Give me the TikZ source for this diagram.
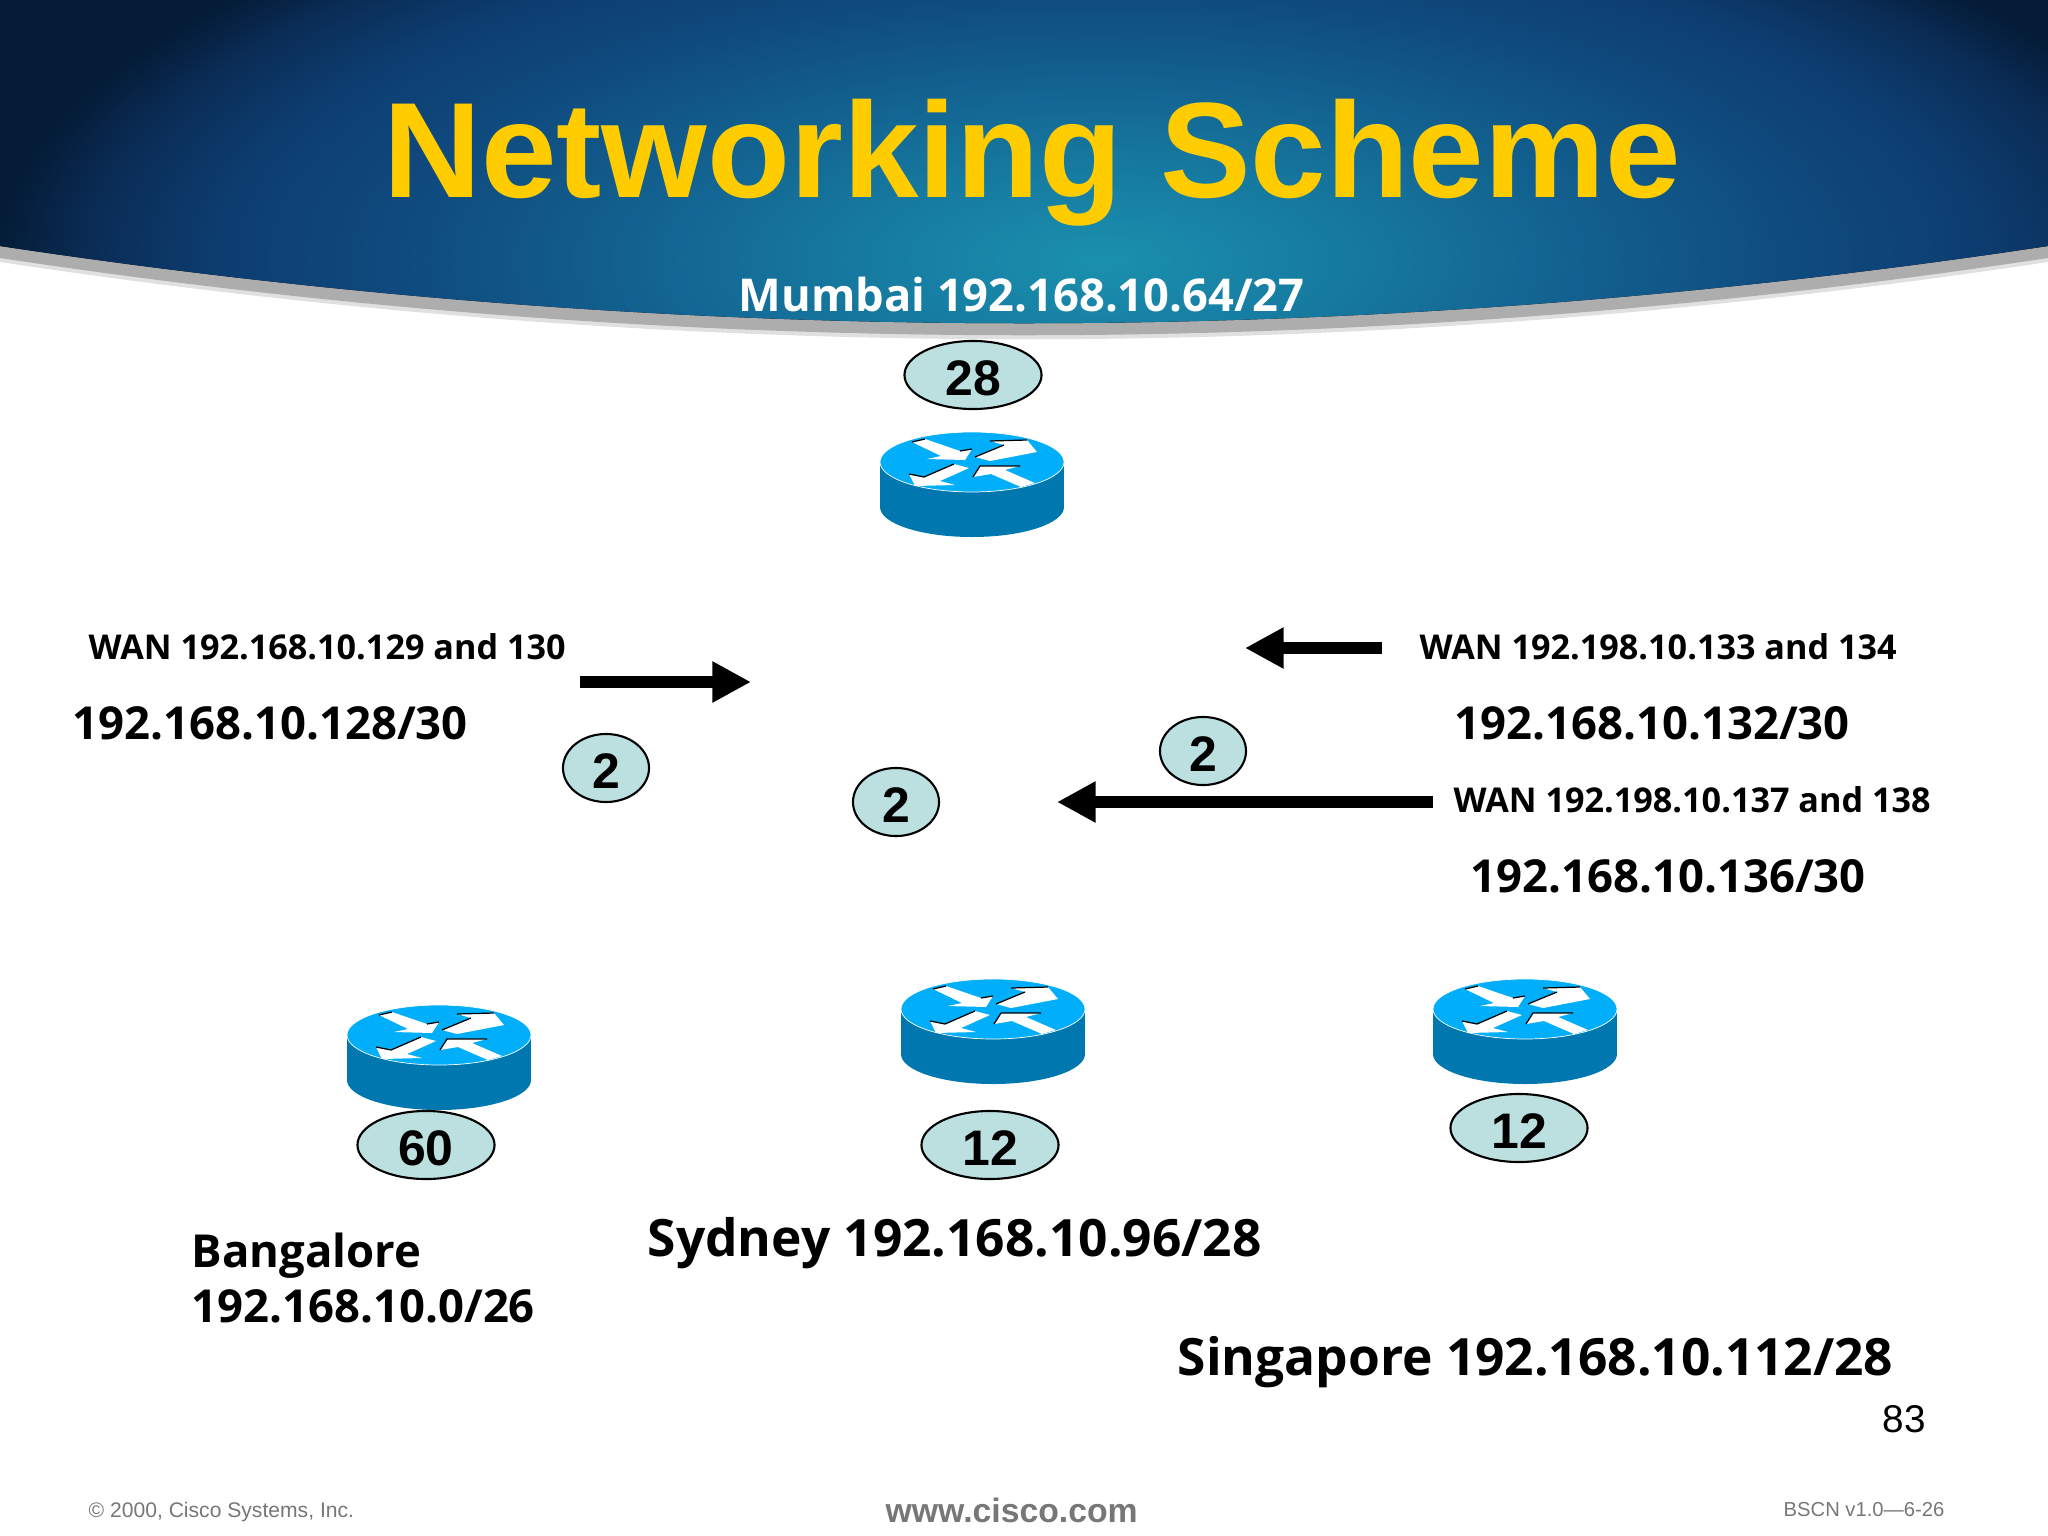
\documentclass[tikz,border=0pt]{standalone}
\usepackage{fontspec}
\setmainfont{Open Sans}
\newfontfamily\arialfont{Liberation Sans}
\usetikzlibrary{arrows.meta,shapes.geometric}
\definecolor{ovalfill}{HTML}{BCDFE0}
\definecolor{routertop}{HTML}{00AEFA}
\definecolor{routerside}{HTML}{0077AE}
\definecolor{titleyellow}{HTML}{FFCC00}
\definecolor{footergray}{HTML}{777777}
\definecolor{shadea}{HTML}{1A90AE}
\definecolor{shadeb}{HTML}{16789F}
\definecolor{shadec}{HTML}{12608F}
\definecolor{shaded}{HTML}{0F4A7E}
\definecolor{shadee}{HTML}{0D3D70}
\definecolor{shadef}{HTML}{0A2C55}
\definecolor{shadeg}{HTML}{041C38}
\pgfdeclareradialshading{headershade}{\pgfpoint{0bp}{0bp}}{color(0bp)=(shadea); color(6bp)=(shadeb); color(11bp)=(shadec); color(16bp)=(shaded); color(20bp)=(shadee); color(23bp)=(shadef); color(25bp)=(shadeg); color(100bp)=(shadeg)}
\tikzstyle{oval}=[ellipse,draw=black,fill=ovalfill,line width=0.6pt,inner sep=0pt,minimum width=1.37cm,minimum height=0.68cm,text height=11.5pt,text depth=0pt,font=\arialfont\bfseries\fontsize{14.2}{16}\selectfont]
\tikzstyle{ovalsmall}=[oval,minimum width=0.86cm]
\tikzstyle{subnet}=[anchor=west,inner sep=0pt,font=\bfseries\fontsize{12.93}{15}\selectfont]
\tikzstyle{wan}=[anchor=west,inner sep=0pt,font=\bfseries\fontsize{9.72}{12}\selectfont]
\tikzstyle{site}=[anchor=west,inner sep=0pt,font=\bfseries\fontsize{14.63}{17}\selectfont]
\tikzstyle{foot}=[anchor=west,inner sep=0pt,text=footergray,font=\arialfont\fontsize{6}{7}\selectfont]
\tikzstyle{fatarrow}=[-{Triangle[length=11pt,width=11pt]},line width=3.4pt,black]
\tikzstyle{routerarrow}=[fill=white,draw=none]
\tikzstyle{routeredge}=[black,line width=0.35pt]
\tikzset{router/.pic={
	\fill [routerside] (-92,0) rectangle (92,45);
	\fill [routerside] (0,45) ellipse (92 and 30);
	\fill [routertop] (0,0) ellipse (92 and 30);
	\draw [white,line width=0.2pt] (0,0) ellipse (92 and 30);
	\fill [routerarrow] (-60,-20) -- (-47,-23) -- (-12,-11) -- (0,-13) -- (-7,-2) -- (-45,-3) -- (-31,-6) -- cycle;
	\fill [routerarrow] (3,-5) -- (18,-1) -- (65,-10) -- (55,-22) -- (18,-21) -- (32,-17) -- cycle;
	\fill [routerarrow] (-63,12) -- (-57,24) -- (-17,23) -- (-32,19) -- (-3,6) -- (-18,2) -- (-48,15) -- cycle;
	\fill [routerarrow] (1,15) -- (8,4) -- (48,4) -- (33,8) -- (63,21) -- (49,25) -- (19,12) -- cycle;
	\draw [routeredge] (-60,-20) -- (-47,-23);
	\draw [routeredge] (-12,-11) -- (0,-13);
	\draw [routeredge] (3,-5) -- (32,-17);
	\draw [routeredge] (18,-21) -- (55,-22);
	\draw [routeredge] (-63,12) -- (-48,15) -- (-18,2);
	\draw [routeredge] (1,15) -- (8,4) -- (48,4);
}}

\begin{document}
\begin{tikzpicture}[x=0.01cm,y=-0.01cm]
			\useasboundingbox (0,0) rectangle (2048,1536);
			\fill [white] (0,0) rectangle (2048,1536);
			\fill [black!12] (0,262) .. controls (683,365) and (1365,365) .. (2048,262) -- (2048,240) -- (0,240) -- cycle;
			\fill [black!32] (0,258) .. controls (683,361) and (1365,361) .. (2048,258) -- (2048,240) -- (0,240) -- cycle;
			\begin{scope}
				\clip (0,0) -- (2048,0) -- (2048,246) .. controls (1365,349) and (683,349) .. (0,246) -- cycle;
				\fill [shading=headershade] (0,-160) rectangle (2200,680);
			\end{scope}
			
			\node (title) at (1032,163) [text=titleyellow,inner sep=0pt,font=\arialfont\bfseries\fontsize{38.6}{40}\selectfont] {Networking Scheme};
			\node (mumbai) at (738,295) [subnet,text=white,font=\bfseries\fontsize{12.87}{15}\selectfont] {Mumbai 192.168.10.64/27};
			
			\pic (r1) at (972,462) {router};
			\pic (r2) at (439,1035) {router};
			\pic (r3) at (993,1009) {router};
			\pic (r4) at (1525,1009) {router};
			
			\node (n28) at (973,375) [oval] {28};
			\node (n60) at (426,1145) [oval] {60};
			\node (n12a) at (990,1145) [oval] {12};
			\node (n12b) at (1519,1128) [oval] {12};
			\node (n2a) at (606,768) [ovalsmall] {2};
			\node (n2b) at (896,802) [ovalsmall] {2};
			\node (n2c) at (1203,751) [ovalsmall] {2};
			
			\coordinate (a1s) at (580,682);
			\coordinate (a1e) at (751,682);
			\coordinate (a2s) at (1382,648);
			\coordinate (a2e) at (1245,648);
			\coordinate (a3s) at (1433,802);
			\coordinate (a3e) at (1057,802);
			\draw [fatarrow] (a1s) -- (a1e);
			\draw [fatarrow] (a2s) -- (a2e);
			\draw [fatarrow] (a3s) -- (a3e);
			
			\node (wan1) at (88,647) [wan] {WAN 192.168.10.129 and 130};
			\node (net1) at (72,723) [subnet] {192.168.10.128/30};
			\node (wan2) at (1419,647) [wan] {WAN 192.198.10.133 and 134};
			\node (net2) at (1454,723) [subnet] {192.168.10.132/30};
			\node (wan3) at (1453,800) [wan] {WAN 192.198.10.137 and 138};
			\node (net3) at (1470,876) [subnet] {192.168.10.136/30};
			
			\node (bangalore) at (191,1256) [subnet] {Bangalore};
			\node (bangaloreip) at (191,1306) [subnet] {192.168.10.0/26};
			\node (sydney) at (647,1243) [site] {Sydney 192.168.10.96/28};
			\node (singapore) at (1177,1362) [site] {Singapore 192.168.10.112/28};
			
			\node (page) at (1882,1419) [anchor=west,inner sep=0pt,font=\arialfont\fontsize{11}{13}\selectfont] {83};
			\node (copyr) at (88,1512) [foot] {© 2000, Cisco Systems, Inc.};
			\node (www) at (885,1510) [foot,font=\arialfont\bfseries\fontsize{9.6}{10}\selectfont] {www.cisco.com};
			\node (bscn) at (1783,1510) [foot,font=\arialfont\fontsize{5.75}{7}\selectfont] {BSCN v1.0—6-26};
		\end{tikzpicture}
\end{document}
